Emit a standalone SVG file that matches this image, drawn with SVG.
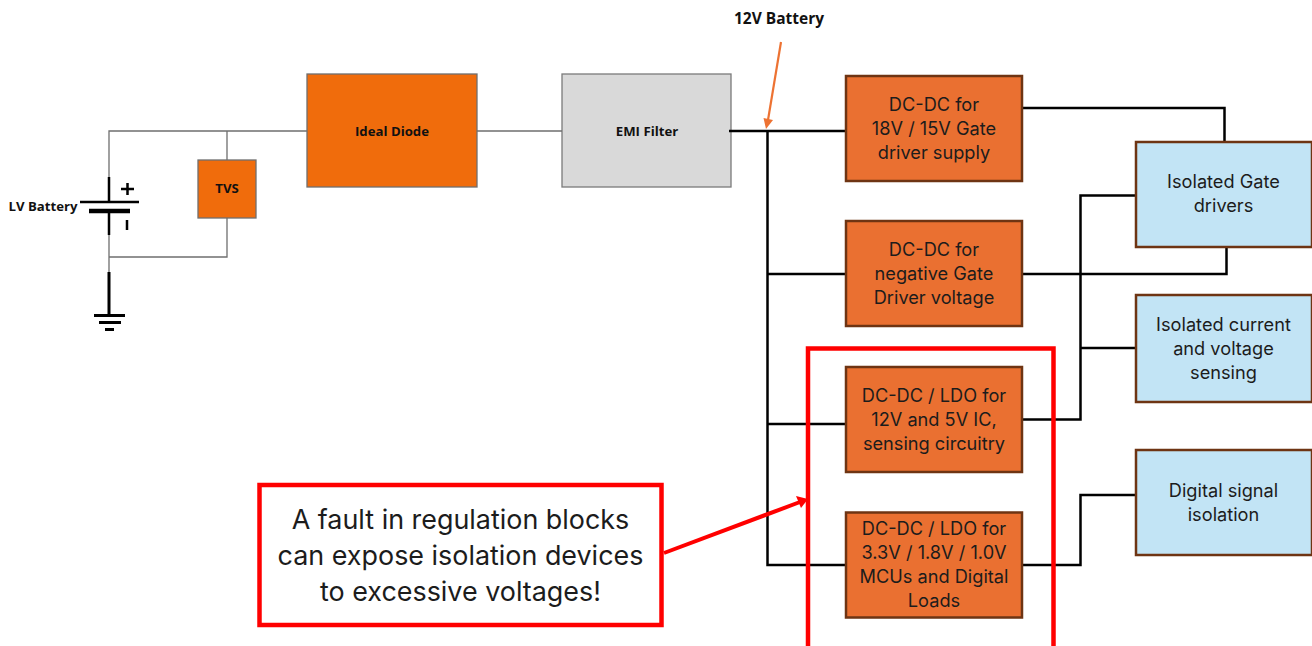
<svg xmlns="http://www.w3.org/2000/svg" width="1312" height="646" viewBox="0 0 1312 646">
<style>
text{font-family:"Inter","Noto Sans",sans-serif;text-anchor:middle;fill:#1c1c1c}
.b{font-family:"Open Sans","Noto Sans",sans-serif;font-weight:700;font-size:13.2px;fill:#111}
.n{font-size:18.2px}
.c{font-size:26.900px}
.o{fill:#ea7031;stroke:#6e3413;stroke-width:2.5}
.l{fill:#c2e4f5;stroke:#6e3413;stroke-width:2.5}
.s{fill:#f06c0c;stroke:#6f6f6f;stroke-width:1.3}
.t{fill:none;stroke:#6f6f6f;stroke-width:1.300}
.k{fill:none;stroke:#000;stroke-width:2.5}
.r{fill:#fff;stroke:#f00;stroke-width:4.5}
</style>
<rect width="1312" height="646" fill="#fff"/>
<g id="ideal-diode"><rect class="s" x="307" y="74" width="170" height="113"/><text class="b" x="392" y="136">Ideal Diode</text></g>
<g id="tvs"><rect class="s" x="198" y="160" width="58" height="58"/><text class="b" x="227" y="193">TVS</text></g>
<g id="emi-filter"><rect x="562" y="74" width="169" height="113" fill="#d9d9d9" stroke="#7a7a7a" stroke-width="1.300"/><text class="b" x="647" y="136">EMI Filter</text></g>
<g id="connectors">
<path class="t" d="M109 181V131H307M227 131V160M227 218V257H109M109 235V272M477 131H562"/>
<path class="k" d="M729 131H846M767.500 131V565H846M767.500 274H846M767.500 424H846"/>
<path class="k" d="M1022 108H1224.500V142M1022 274H1226.500V247M1022 419.500H1080.500V195.500H1136M1080.500 348H1136M1022 565H1080.500V495H1136"/>
<path d="M781 42L768 120" fill="none" stroke="#ed7232" stroke-width="2.2"/>
<path d="M763.500 118L773 120L766 129Z" fill="#ed7232"/>
</g>
<g id="lv-battery">
<path fill="none" stroke="#000" stroke-width="2.500" d="M109 177V201M80 202H139M109 213V235M121 189H134M127.500 183V195M127 220V230"/>
<path fill="none" stroke="#000" stroke-width="4.500" d="M89 211H130"/>
<text class="b" x="43" y="211">LV Battery</text>
</g>
<g id="ground">
<path fill="none" stroke="#000" stroke-width="3" d="M109 272V315M94 315.500H125M99 322.500H121M105 329.500H114"/>
</g>
<g id="dc-18v"><rect class="o" x="846" y="76" width="176" height="105"/><text class="n" x="934" y="111">DC-DC for</text><text class="n" x="934" y="135">18V / 15V Gate</text><text class="n" x="934" y="159">driver supply</text></g>
<g id="dc-neg"><rect class="o" x="846" y="221" width="176" height="105"/><text class="n" x="934" y="256">DC-DC for</text><text class="n" x="934" y="280">negative Gate</text><text class="n" x="934" y="304">Driver voltage</text></g>
<g id="highlight"><path d="M808 646V348.500H1053.500V646" fill="none" stroke="#f00" stroke-width="4.500"/></g>
<g id="ldo-12v"><rect class="o" x="846" y="367" width="176" height="105"/><text class="n" x="934" y="402">DC-DC / LDO for</text><text class="n" x="934" y="426">12V and 5V IC,</text><text class="n" x="934" y="450">sensing circuitry</text></g>
<g id="ldo-33v"><rect class="o" x="846" y="512.500" width="176" height="105"/><text class="n" x="934" y="535">DC-DC / LDO for</text><text class="n" x="934" y="559">3.3V / 1.8V / 1.0V</text><text class="n" x="934" y="583">MCUs and Digital</text><text class="n" x="934" y="607">Loads</text></g>
<g id="gate-drivers"><rect class="l" x="1136" y="142" width="176" height="105"/><text class="n" x="1223.500" y="188">Isolated Gate</text><text class="n" x="1223.500" y="212">drivers</text></g>
<g id="current-sensing"><rect class="l" x="1136" y="295" width="176" height="107"/><text class="n" x="1223.500" y="331">Isolated current</text><text class="n" x="1223.500" y="355">and voltage</text><text class="n" x="1223.500" y="379">sensing</text></g>
<g id="signal-isolation"><rect class="l" x="1136" y="450" width="176" height="105"/><text class="n" x="1223.500" y="497">Digital signal</text><text class="n" x="1223.500" y="521">isolation</text></g>
<g id="battery-label"><text class="b" x="779" y="24" style="font-size:15.500px">12V Battery</text></g>
<g id="callout">
<rect class="r" x="259.500" y="485" width="402" height="140"/>
<text class="c" x="460.500" y="529">A fault in regulation blocks</text>
<text class="c" x="460.500" y="565">can expose isolation devices</text>
<text class="c" x="460.500" y="601">to excessive voltages!</text>
<path d="M664 553L800 502" fill="none" stroke="#f00" stroke-width="4"/>
<path d="M796 496L808 499L801 508Z" fill="#f00"/>
</g>
</svg>
